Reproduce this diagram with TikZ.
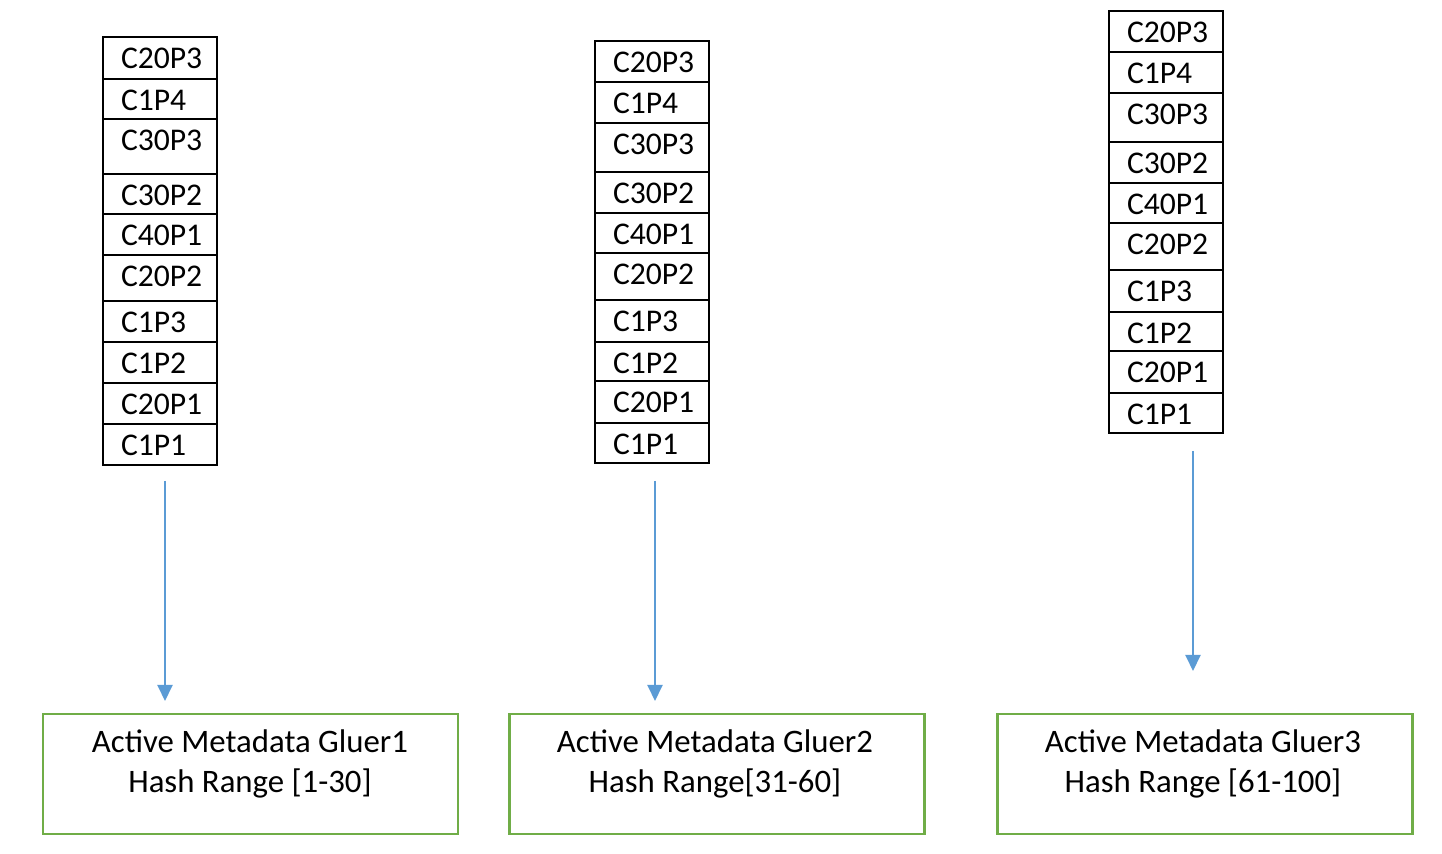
\documentclass[tikz,border=0pt]{standalone}
\usepackage{fontspec}
\setmainfont{Carlito}
\usetikzlibrary{arrows.meta,positioning}
\definecolor{flowblue}{HTML}{5B9BD5}
\definecolor{gluergreen}{HTML}{70AD47}

\begin{document}
\begin{tikzpicture}[
  x=0.5pt,y=-0.5pt,
  line cap=rect,
  cell/.style={draw,line width=1pt,anchor=north west,outer sep=0pt,
    inner xsep=9pt,inner ysep=0pt,text width=39pt,align=left,
    text height=16pt,font=\fontsize{15.8}{18}\selectfont},
  gluer/.style={draw=gluergreen,line width=1.25pt,outer sep=0pt,
    minimum width=207.5pt,minimum height=60pt},
  gluertext/.style={align=center,font=\fontsize{16.4}{20}\selectfont},
  flow/.style={draw=flowblue,line width=1pt,line cap=butt,
    -{Triangle[width=7.5pt,length=8pt]}}
]
  \useasboundingbox (0,0) rectangle (1442,854);

  % Stack 1
  \foreach \lab/\yt/\yb [count=\i] in {C20P3/37/79,C1P4/79/119,C30P3/119/174,
      C30P2/174/214,C40P1/214/255,C20P2/255/301,C1P3/301/342,C1P2/342/383,
      C20P1/383/424,C1P1/424/465}{
    \pgfmathsetmacro\dep{(\yb-\yt)/2-16}
    \node[cell,text depth=\dep pt] (p1-\i) at (103,\yt) {\lab};
  }

  % Stack 2
  \foreach \lab/\yt/\yb [count=\i] in {C20P3/41/82,C1P4/82/123,C30P3/123/172,
      C30P2/172/213,C40P1/213/253,C20P2/253/300,C1P3/300/342,C1P2/342/381,
      C20P1/381/423,C1P1/423/463}{
    \pgfmathsetmacro\dep{(\yb-\yt)/2-16}
    \node[cell,text depth=\dep pt] (p2-\i) at (595,\yt) {\lab};
  }

  % Stack 3
  \foreach \lab/\yt/\yb [count=\i] in {C20P3/11/52,C1P4/52/93,C30P3/93/142,
      C30P2/142/183,C40P1/183/223,C20P2/223/270,C1P3/270/312,C1P2/312/351,
      C20P1/351/393,C1P1/393/433}{
    \pgfmathsetmacro\dep{(\yb-\yt)/2-16}
    \node[cell,text depth=\dep pt] (p3-\i) at (1109,\yt) {\lab};
  }

  % Gluers
  \node[gluer] (g1) at (250.5,774) {};
  \node[gluer] (g2) at (717,774) {};
  \node[gluer] (g3) at (1205,774) {};
  \node[gluertext] (t1) at (250,764) {Active Metadata Gluer1\\Hash Range [1-30]};
  \node[gluertext] (t2) at (715,764) {Active Metadata Gluer2\\Hash Range[31-60]};
  \node[gluertext] (t3) at (1203,764) {Active Metadata Gluer3\\Hash Range [61-100]};

  % Arrows
  \coordinate (a1) at (165,481);
  \coordinate (b1) at (165,701);
  \coordinate (a2) at (655,481);
  \coordinate (b2) at (655,701);
  \coordinate (a3) at (1193,451);
  \coordinate (b3) at (1193,671);
  \draw[flow] (a1) -- (b1);
  \draw[flow] (a2) -- (b2);
  \draw[flow] (a3) -- (b3);
\end{tikzpicture}
\end{document}
